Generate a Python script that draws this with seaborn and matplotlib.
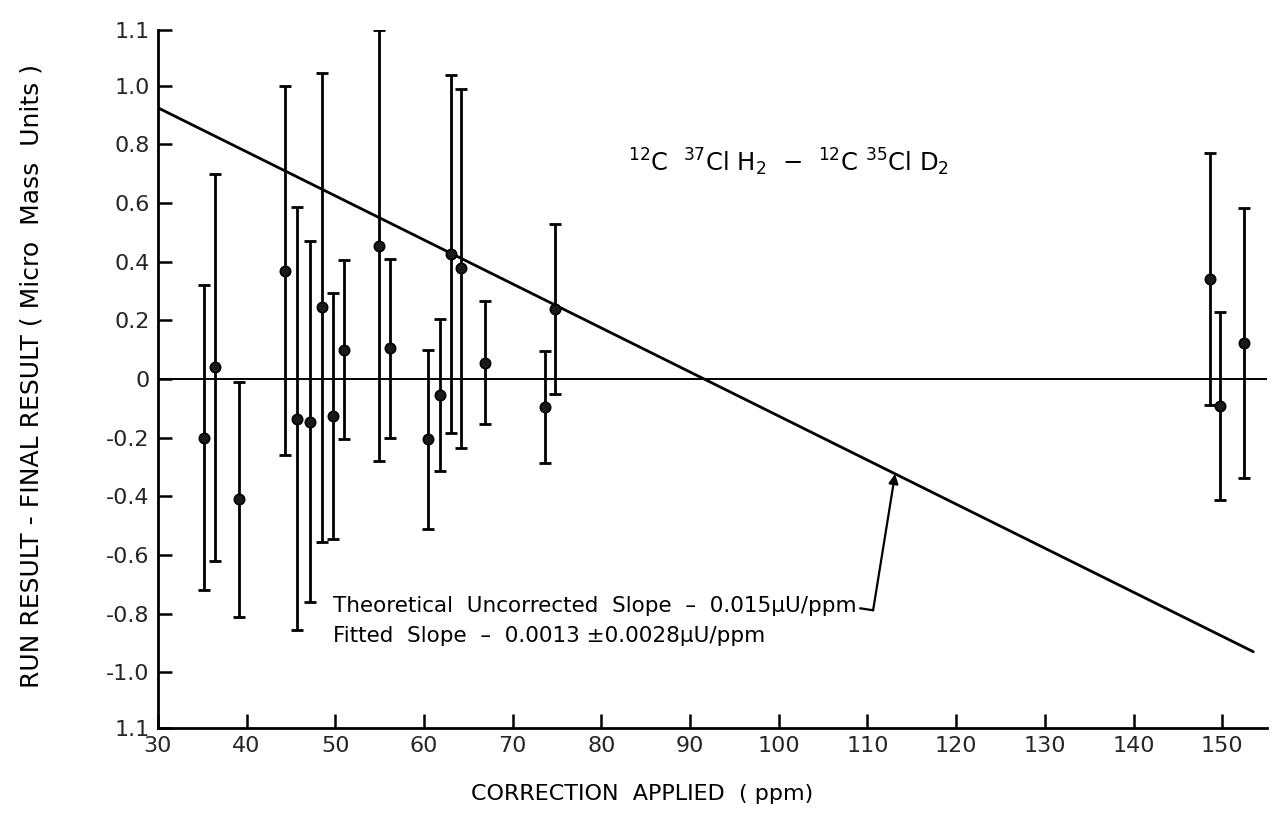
import matplotlib
matplotlib.use("Agg")
import matplotlib.pyplot as plt
import numpy as np
import pandas as pd
import seaborn as sns

# ---- data ----
correction_ppm = [35.2, 36.4, 39.2, 44.3, 45.7, 47.2, 48.5, 49.8, 51.0, 54.9, 56.2,
                  60.4, 61.8, 63.1, 64.2, 66.9, 73.6, 74.8, 148.6, 149.7, 152.4]
residual = [-0.20, 0.04, -0.41, 0.37, -0.135, -0.145, 0.245, -0.127, 0.10, 0.455, 0.105,
            -0.206, -0.054, 0.425, 0.378, 0.055, -0.095, 0.24, 0.34, -0.092, 0.122]
error = [0.52, 0.66, 0.40, 0.63, 0.72, 0.615, 0.80, 0.42, 0.305, 0.735, 0.305,
         0.306, 0.258, 0.61, 0.612, 0.21, 0.19, 0.29, 0.43, 0.32, 0.46]

theory_x = [30, 153.5]
theory_y = [0.925, -0.93]

xticks = [30, 40, 50, 60, 70, 80, 90, 100, 110, 120, 130, 140, 150]
xtick_labels = ["30", "40", "50", "60", "70", "80", "90", "100", "110", "120", "130", "140", "150"]
yticks = [-1.19, -1.0, -0.8, -0.6, -0.4, -0.2, 0.0, 0.2, 0.4, 0.6, 0.8, 1.0, 1.19]
ytick_labels = ["1.1", "-1.0", "-0.8", "-0.6", "-0.4", "-0.2", "0", "0.2", "0.4",
                "0.6", "0.8", "1.0", "1.1"]

formula = r"$^{12}$C  $^{37}$Cl H$_2$  $-$  $^{12}$C $^{35}$Cl D$_2$"
note1 = "Theoretical  Uncorrected  Slope  \u2013  0.015\u03bcU/ppm"
note2 = "Fitted  Slope  \u2013  0.0013 \u00b10.0028\u03bcU/ppm"
xlabel = "CORRECTION  APPLIED  ( ppm)"
ylabel = "RUN RESULT - FINAL RESULT ( Micro  Mass  Units )"

# ---- plot ----
sns.set_theme(style="ticks")
plt.rcParams["font.family"] = ["DejaVu Sans"]
plt.rcParams["mathtext.default"] = "regular"

fig = plt.figure(figsize=(12.73, 8.25), dpi=100)
ax = fig.add_axes([0.124, 0.1176, 0.871, 0.846])

df = pd.DataFrame({"x": correction_ppm, "y": residual, "err": error})

ax.errorbar(df["x"], df["y"], yerr=df["err"], fmt="none", ecolor="black",
            elinewidth=2.0, capsize=4.5, capthick=2.0, zorder=2)
sns.scatterplot(data=df, x="x", y="y", ax=ax, color="#1a1a1a", s=55,
                edgecolor="black", linewidth=1.2, zorder=3)
sns.lineplot(x=theory_x, y=theory_y, ax=ax, color="black", linewidth=2.0, zorder=2)
ax.axhline(0, color="black", linewidth=1.4, zorder=1)

ax.set_xlim(30, 155)
ax.set_ylim(-1.19, 1.19)
ax.set_xticks(xticks)
ax.set_xticklabels(xtick_labels, fontsize=16)
ax.set_yticks(yticks)
ax.set_yticklabels(ytick_labels, fontsize=16)
ax.tick_params(direction="in", length=10, width=1.8, color="black", pad=6)

for s in ["top", "right"]:
    ax.spines[s].set_visible(False)
for s in ["left", "bottom"]:
    ax.spines[s].set_linewidth(2.0)
    ax.spines[s].set_color("black")

ax.set_xlabel(xlabel, fontsize=16, color="black")
ax.set_ylabel(ylabel, fontsize=18, color="black")
ax.xaxis.set_label_coords(0.437, -0.08)
ax.yaxis.set_label_coords(-0.103, 0.505)

ax.text(83.0, 0.74, formula, fontsize=17.5, ha="left", va="center", color="black")
t1 = ax.text(49.8, -0.775, note1, fontsize=15.5, ha="left", va="center", color="black")
ax.text(49.8, -0.878, note2, fontsize=15.5, ha="left", va="center", color="black")

# leader from the end of the first note up to the theoretical line
fig.canvas.draw()
bb = t1.get_window_extent(fig.canvas.get_renderer())
inv = ax.transData.inverted()
x0, y0 = inv.transform((bb.x1 + 3, bb.y0 + 0.4 * bb.height))
x1, y1 = inv.transform((bb.x1 + 16, bb.y0 + 0.3 * bb.height))
x_tip = inv.transform((bb.x1 + 38, 0))[0]
y_tip = float(np.interp(x_tip, theory_x, theory_y))
ax.plot([x0, x1], [y0, y1], color="black", linewidth=1.6)
ax.annotate("", xy=(x_tip, y_tip), xytext=(x1, y1),
            arrowprops=dict(arrowstyle="-|>", color="black", lw=1.6,
                            mutation_scale=14, shrinkA=0, shrinkB=0))

fig.savefig("out.png", dpi=100)
